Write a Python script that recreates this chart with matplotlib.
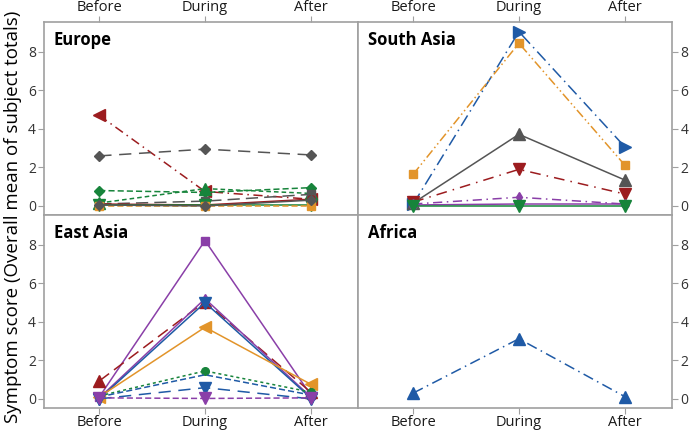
import matplotlib.pyplot as plt
import numpy as np

################################################## Data
periods = ["Before", "During", "After"]
regions = ["Europe", "South Asia", "East Asia", "Africa"]

# (values, color, marker, linestyle) per series
blue = "#1f5aa6"
red = "#9c1c1f"
green = "#17843b"
purple = "#8a3fa8"
orange = "#e2942a"
gray = "#555555"

europe_vals = [
    [4.7, 0.75, 0.35],
    [2.6, 2.95, 2.65],
    [0.8, 0.7, 0.95],
    [0.15, 0.9, 0.65],
    [0.1, 0.25, 0.6],
    [0.1, 0.05, 0.35],
    [0.05, 0.05, 0.05],
    [0.0, 0.0, 0.0],
    [0.05, 0.0, 0.3],
]
europe_styles = [
    (red, "<", (0, (6, 3, 1, 3))),
    (gray, "D", (0, (8, 5))),
    (green, "D", (0, (4, 2))),
    (green, "^", (0, (3, 2))),
    (gray, "s", (0, (8, 4))),
    (red, "o", "-"),
    (green, "v", "-"),
    (orange, "s", (0, (4, 2))),
    (gray, "D", "-"),
]

south_asia_vals = [
    [0.1, 9.05, 3.08],
    [1.65, 8.45, 2.13],
    [0.15, 3.72, 1.35],
    [0.2, 1.9, 0.62],
    [0.1, 0.45, 0.1],
    [0.05, 0.1, 0.1],
    [0.0, 0.0, 0.0],
]
south_asia_styles = [
    (blue, ">", (0, (8, 3, 1, 3))),
    (orange, "s", (0, (6, 2, 1, 2, 1, 2))),
    (gray, "^", "-"),
    (red, "v", (0, (7, 4, 1, 4))),
    (purple, "d", (0, (6, 3, 1, 3))),
    (purple, "o", "-"),
    (green, "v", "-"),
]

east_asia_vals = [
    [0.1, 8.22, 0.2],
    [0.93, 5.05, 0.35],
    [0.05, 5.2, 0.1],
    [0.0, 5.0, 0.05],
    [0.1, 3.72, 0.76],
    [0.15, 1.45, 0.35],
    [0.1, 1.25, 0.2],
    [0.0, 0.58, 0.0],
    [0.05, 0.02, 0.05],
]
east_asia_styles = [
    (purple, "s", "-"),
    (red, "^", (0, (8, 4))),
    (purple, "d", "-"),
    (blue, "v", "-"),
    (orange, "<", "-"),
    (green, "o", (0, (2, 2))),
    (blue, "", (0, (4, 2))),
    (blue, "v", (0, (8, 5))),
    (purple, "v", (0, (4, 2))),
]

africa_vals = [
    [0.3, 3.12, 0.12],
]
africa_styles = [
    (blue, "^", (0, (7, 3, 1, 3))),
]

################################################## Plot
plt.rcParams["font.family"] = ["Open Sans", "DejaVu Sans"]

fig, axes = plt.subplots(2, 2, figsize=(6.93, 4.33), dpi=100)
fig.subplots_adjust(left=0.064, right=0.970, top=0.949, bottom=0.058,
                    wspace=0, hspace=0)

panels = [
    (axes[0, 0], "Europe", europe_vals, europe_styles),
    (axes[0, 1], "South Asia", south_asia_vals, south_asia_styles),
    (axes[1, 0], "East Asia", east_asia_vals, east_asia_styles),
    (axes[1, 1], "Africa", africa_vals, africa_styles),
]

x = np.arange(len(periods))
edge = "#a0a0a0"

for i, (ax, name, vals, styles) in enumerate(panels):
    for v, (c, m, ls) in zip(vals, styles):
        ax.plot(x, v, color=c, marker=m, linestyle=ls, linewidth=1.1,
                markersize=8 if m not in ("s", "d", "D", "o") else 5.5)

    ax.set_xlim(-0.52, 2.45)
    ax.set_ylim(-0.47, 9.55)
    ax.set_xticks(x)
    ax.set_xticklabels(periods)
    ax.set_yticks([0, 2, 4, 6, 8])
    ax.text(0.03, 0.955, name, transform=ax.transAxes, fontsize=12,
            fontweight="bold", va="top", ha="left")

    top_row = i < 2
    left_col = i % 2 == 0
    ax.tick_params(axis="x", top=top_row, labeltop=top_row,
                   bottom=not top_row, labelbottom=not top_row,
                   direction="out", length=4, color=edge, labelsize=10.5,
                   labelcolor="#1a1a1a", pad=1)
    ax.tick_params(axis="y", left=left_col, labelleft=left_col,
                   right=not left_col, labelright=not left_col,
                   direction="out", length=4, color=edge, labelsize=10,
                   labelcolor="#333333", pad=2)
    for s in ax.spines.values():
        s.set_color(edge)
        s.set_linewidth(1.2)

fig.text(0.019, 0.5, "Symptom score (Overall mean of subject totals)",
         rotation=90, va="center", ha="center", fontsize=13.5)

plt.savefig("out.png")
